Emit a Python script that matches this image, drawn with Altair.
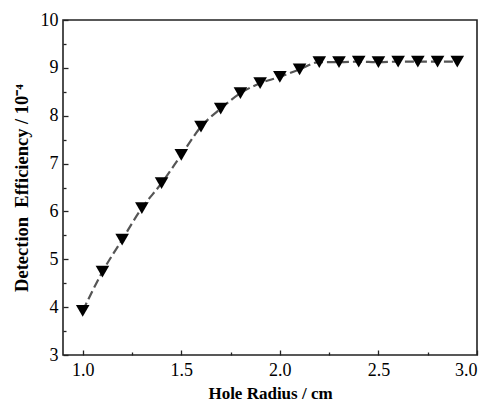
import altair as alt
import pandas as pd

radius = [1.0, 1.1, 1.2, 1.3, 1.4, 1.5, 1.6, 1.7, 1.8, 1.9,
          2.0, 2.1, 2.2, 2.3, 2.4, 2.5, 2.6, 2.7, 2.8, 2.9]
efficiency = [3.92, 4.74, 5.41, 6.07, 6.59, 7.18, 7.77, 8.15, 8.47, 8.68,
              8.81, 8.97, 9.12, 9.12, 9.13, 9.12, 9.13, 9.13, 9.13, 9.13]

x_major = [1.0, 1.5, 2.0, 2.5, 3.0]
x_minor = [1.25, 1.75, 2.25, 2.75]
y_major = [3, 4, 5, 6, 7, 8, 9, 10]
y_minor = [3.5, 4.5, 5.5, 6.5, 7.5, 8.5, 9.5]

df = pd.DataFrame({"r": radius, "e": efficiency})

FONT = "Liberation Serif, Times New Roman, serif"
xscale = alt.Scale(domain=[0.9, 3.0], nice=False, zero=False)
yscale = alt.Scale(domain=[3, 10], nice=False, zero=False)

lbl_x = alt.Axis(values=x_major, format=".1f", tickSize=0, domain=False, grid=False,
                 labelPadding=6, labelFontSize=18, labelFont=FONT, labelColor="black",
                 title="Hole Radius / cm", titleFont=FONT, titleFontSize=17,
                 titleFontWeight="bold", titleColor="black", titlePadding=6)
lbl_y = alt.Axis(values=y_major, format="d", tickSize=0, domain=False, grid=False,
                 labelPadding=5, labelFontSize=18, labelFont=FONT, labelColor="black",
                 title="Detection\u2002Efficiency / 10\u207b\u2074", titleFont=FONT,
                 titleFontSize=18.5, titleFontWeight="bold", titleColor="black",
                 titlePadding=9)

line = alt.Chart(df).mark_line(
    color="#555555", strokeWidth=2.2, strokeDash=[9, 4], interpolate="monotone"
).encode(
    x=alt.X("r:Q", scale=xscale, axis=lbl_x),
    y=alt.Y("e:Q", scale=yscale, axis=lbl_y),
)

maj_x = alt.Axis(orient="bottom", values=x_major, tickSize=5, offset=-5, labels=False,
                 domain=False, grid=False, title=None, tickColor="#222", tickWidth=1.3)
maj_y = alt.Axis(orient="left", values=y_major, tickSize=5, offset=-5, labels=False,
                 domain=False, grid=False, title=None, tickColor="#222", tickWidth=1.3)

points = alt.Chart(df).mark_point(
    shape="triangle-down", filled=True, color="black", size=185, opacity=1
).encode(
    x=alt.X("r:Q", scale=xscale, axis=maj_x),
    y=alt.Y("e:Q", scale=yscale, axis=maj_y),
)

min_x = alt.Axis(orient="bottom", values=x_minor, tickSize=3, offset=-3, labels=False,
                 domain=False, grid=False, title=None, tickColor="#222", tickWidth=1.3)
min_y = alt.Axis(orient="left", values=y_minor, tickSize=3, offset=-3, labels=False,
                 domain=False, grid=False, title=None, tickColor="#222", tickWidth=1.3)

ghost = alt.Chart(df).mark_point(opacity=0).encode(
    x=alt.X("r:Q", scale=xscale, axis=min_x),
    y=alt.Y("e:Q", scale=yscale, axis=min_y),
)

chart = alt.layer(line, points, ghost).resolve_axis(
    x="independent", y="independent"
).properties(
    width=414, height=335,
    autosize=alt.AutoSizeParams(type="none"),
    padding={"left": 55, "top": 12, "right": 6, "bottom": 47},
).configure_view(
    stroke="#222222", strokeWidth=1.6
)

chart.save("out.html", embed_options={"renderer": "svg", "actions": False})
